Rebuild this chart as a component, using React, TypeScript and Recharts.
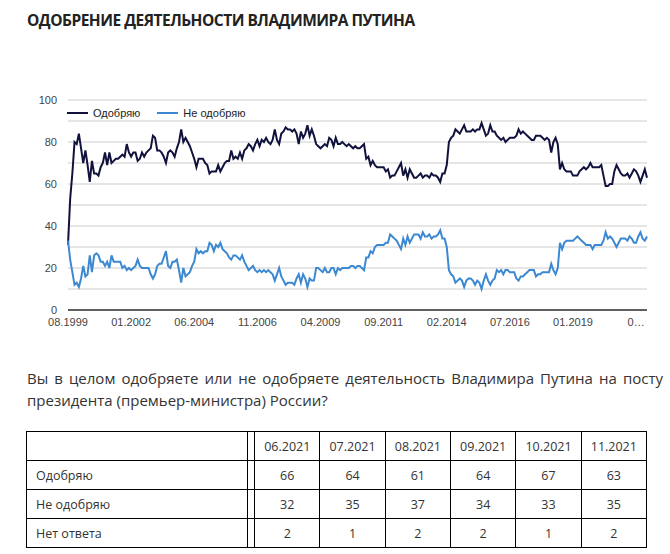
// Одобрение деятельности Владимира Путина — линии Levada (Recharts)
import React from 'react';
import { LineChart, Line, XAxis, YAxis, CartesianGrid } from 'recharts';

// месяц без опроса между 07.2016 и 01.2019
const skippedMonth = '01.2017';

// Одобряю, помесячно с 08.1999 по 11.2021
const approve: number[] = [
  31, 53, 65, 80, 79, // 1999
  84, 77, 70, 76, 69, 61, 71, 65, 65, 64, 68, 70, // 2000
  75, 69, 75, 70, 71, 72, 72, 73, 74, 73, 79, 75, // 2001
  73, 75, 75, 71, 72, 75, 73, 75, 76, 77, 83, 82, // 2002
  76, 76, 75, 73, 70, 75, 76, 75, 73, 77, 80, 86, // 2003
  80, 82, 80, 78, 75, 72, 68, 72, 72, 72, 70, 69, // 2004
  65, 66, 66, 66, 69, 66, 68, 70, 71, 71, 76, 72, // 2005
  73, 72, 75, 72, 76, 77, 79, 78, 76, 79, 81, 78, // 2006
  81, 80, 82, 80, 79, 81, 86, 81, 79, 84, 85, 87, // 2007
  86, 86, 85, 86, 84, 79, 85, 82, 84, 88, 83, 86, // 2008
  83, 79, 78, 77, 78, 79, 78, 82, 81, 78, 82, 79, // 2009
  79, 80, 79, 78, 79, 78, 77, 78, 77, 77, 78, 79, // 2010
  72, 73, 69, 71, 69, 68, 68, 68, 68, 66, 67, 63, // 2011
  64, 64, 66, 68, 70, 64, 67, 63, 67, 65, 63, 63, // 2012
  64, 65, 63, 64, 64, 63, 65, 64, 64, 63, 61, 65, // 2013
  65, 69, 80, 82, 83, 86, 85, 84, 86, 88, 85, 85, // 2014
  85, 86, 85, 86, 86, 89, 86, 83, 84, 88, 85, 85, // 2015
  83, 82, 81, 82, 80, 81, 82, 82, 82, 83, 86, 84, // 2016
  85, 84, 83, 82, 81, 81, 83, 83, 83, 82, 81, // 2017 (фев-дек)
  82, 81, 75, 80, 82, 79, 67, 70, 67, 66, 66, 66, // 2018
  64, 64, 64, 66, 67, 68, 67, 68, 70, 68, 68, 68, // 2019
  68, 69, 64, 59, 59, 60, 60, 66, 69, 67, 65, 64, // 2020
  64, 65, 63, 65, 67, 66, 64, 61, 64, 67, 63, // 2021
];

// Не одобряю
const disapprove: number[] = [
  33, 24, 18, 12, 13, // 1999
  11, 15, 21, 16, 17, 26, 18, 26, 27, 26, 23, 23, // 2000
  21, 23, 20, 26, 23, 23, 23, 23, 20, 21, 19, 20, // 2001
  19, 20, 21, 24, 21, 20, 20, 20, 20, 17, 15, 17, // 2002
  21, 22, 22, 25, 28, 21, 20, 23, 23, 24, 19, 13, // 2003
  20, 16, 17, 18, 21, 23, 29, 27, 28, 27, 28, 28, // 2004
  32, 31, 28, 31, 30, 32, 29, 28, 27, 25, 24, 26, // 2005
  26, 25, 24, 26, 23, 21, 19, 20, 21, 19, 18, 19, // 2006
  18, 19, 18, 19, 18, 17, 14, 17, 20, 16, 14, 12, // 2007
  13, 13, 13, 12, 15, 17, 13, 17, 15, 11, 15, 14, // 2008
  14, 20, 20, 19, 18, 20, 18, 18, 20, 20, 17, 20, // 2009
  19, 20, 20, 20, 20, 21, 21, 20, 21, 21, 20, 19, // 2010
  25, 25, 28, 27, 30, 31, 31, 31, 31, 32, 32, 36, // 2011
  35, 34, 33, 31, 29, 34, 31, 35, 32, 34, 36, 36, // 2012
  36, 34, 37, 35, 35, 36, 34, 35, 35, 36, 38, 34, // 2013
  34, 30, 19, 17, 16, 13, 14, 15, 14, 11, 14, 15, // 2014
  15, 14, 12, 14, 13, 10, 14, 17, 14, 12, 14, 15, // 2015
  19, 18, 19, 17, 19, 19, 18, 18, 18, 15, 14, 16, // 2016
  16, 17, 18, 19, 19, 19, 16, 17, 17, 18, 18, // 2017 (фев-дек)
  18, 18, 22, 19, 17, 20, 32, 29, 32, 33, 33, 33, // 2018
  33, 34, 35, 34, 33, 32, 31, 31, 31, 29, 31, 31, // 2019
  31, 31, 33, 37, 34, 35, 34, 32, 30, 32, 34, 34, // 2020
  34, 33, 35, 34, 32, 32, 35, 37, 34, 33, 35, // 2021
];

const yTicks = [0, 10, 20, 30, 40, 50, 60, 70, 80, 90, 100];

// таблица под графиком
const tableMonths = ['06.2021', '07.2021', '08.2021', '09.2021', '10.2021', '11.2021'];
const tableApprove = [66, 64, 61, 64, 67, 63];
const tableDisapprove = [32, 35, 37, 34, 33, 35];
const tableNoAnswer = [2, 1, 2, 2, 1, 2];

const COLOR_APPROVE = '#10123d';
const COLOR_DISAPPROVE = '#3d89d1';
const CHART_FONT = '"Liberation Sans", Arial, sans-serif';
const TEXT_FONT = '"Open Sans", "Noto Sans", sans-serif';

function buildMonths(): string[] {
  const out: string[] = [];
  for (let y = 1999; y <= 2021; y++) {
    for (let m = 1; m <= 12; m++) {
      if (y === 1999 && m < 8) continue;
      if (y === 2021 && m > 11) continue;
      const label = `${String(m).padStart(2, '0')}.${y}`;
      if (label === skippedMonth) continue;
      out.push(label);
    }
  }
  return out;
}

const months = buildMonths();
const data = months.map((month, i) => ({
  month,
  approve: approve[i],
  disapprove: disapprove[i],
}));

// легенда как в Google Charts (поверх графика, чтобы не съедала высоту)
function ChartLegend() {
  const items = [
    { label: 'Одобряю', color: COLOR_APPROVE },
    { label: 'Не одобряю', color: COLOR_DISAPPROVE },
  ];
  return (
    <div
      style={{
        position: 'absolute', left: 67, top: 106, display: 'flex', alignItems: 'center',
        fontFamily: CHART_FONT, fontSize: 11, color: '#222', lineHeight: '14px',
      }}
    >
      {items.map((it, idx) => (
        <div key={it.label} style={{ display: 'flex', alignItems: 'center', marginRight: idx === 0 ? 17 : 0 }}>
          <span style={{ display: 'inline-block', width: 21, height: 2, background: it.color, marginRight: 5 }} />
          <span>{it.label}</span>
        </div>
      ))}
    </div>
  );
}

const cell: React.CSSProperties = {
  border: '1px solid #000',
  height: 28,
  padding: 0,
  textAlign: 'center',
  color: '#333',
};

export default function App() {
  const rows = [
    { label: 'Одобряю', values: tableApprove },
    { label: 'Не одобряю', values: tableDisapprove },
    { label: 'Нет ответа', values: tableNoAnswer },
  ];

  return (
    <div style={{ position: 'absolute', left: 0, top: 0, width: 670, height: 554, background: '#fff' }}>
      <div
        style={{
          position: 'absolute', left: 27, top: 9, lineHeight: '22px', letterSpacing: -0.5,
          fontFamily: TEXT_FONT, fontSize: 15.5, fontWeight: 700, color: '#222', whiteSpace: 'nowrap',
        }}
      >
        ОДОБРЕНИЕ ДЕЯТЕЛЬНОСТИ ВЛАДИМИРА ПУТИНА
      </div>

      <div style={{ position: 'absolute', left: 0, top: 0 }}>
        <LineChart width={670} height={340} data={data} margin={{ top: 100, right: 23, bottom: 0, left: 0 }}>
          <CartesianGrid vertical={false} stroke="#cccccc" />
          <XAxis
            dataKey="month"
            interval={28}
            height={30}
            tickLine={false}
            tickSize={0}
            tickMargin={8}
            axisLine={{ stroke: '#333', strokeWidth: 1.5 }}
            tick={{ fontSize: 11, fill: '#444', fontFamily: CHART_FONT }}
            tickFormatter={(v: string) => (v === '06.2021' ? '0…' : v)}
          />
          <YAxis
            width={68}
            domain={[0, 100]}
            ticks={yTicks}
            axisLine={false}
            tickLine={false}
            tickSize={0}
            tickMargin={11}
            tick={{ fontSize: 11, fill: '#444', fontFamily: CHART_FONT }}
            tickFormatter={(v: number) => (v % 20 === 0 ? String(v) : '')}
          />
          <Line
            type="linear"
            dataKey="approve"
            name="Одобряю"
            stroke={COLOR_APPROVE}
            strokeWidth={2}
            dot={false}
            isAnimationActive={false}
          />
          <Line
            type="linear"
            dataKey="disapprove"
            name="Не одобряю"
            stroke={COLOR_DISAPPROVE}
            strokeWidth={2}
            dot={false}
            isAnimationActive={false}
          />
        </LineChart>
        <ChartLegend />
      </div>

      <div
        style={{
          position: 'absolute', left: 27, top: 367, width: 636,
          fontFamily: TEXT_FONT, fontSize: 15, lineHeight: '22px', color: '#333',
        }}
      >
        <div style={{ textAlign: 'justify', textAlignLast: 'justify' }}>
          Вы в целом одобряете или не одобряете деятельность Владимира Путина на посту
        </div>
        <div>президента (премьер-министра) России?</div>
      </div>

      <table
        style={{
          position: 'absolute', left: 26, top: 431, borderCollapse: 'collapse', tableLayout: 'fixed',
          width: 621, fontFamily: TEXT_FONT, fontSize: 12.5,
        }}
      >
        <colgroup>
          <col style={{ width: 220 }} />
          <col style={{ width: 7 }} />
          {tableMonths.map((m) => (
            <col key={m} style={{ width: 65 }} />
          ))}
        </colgroup>
        <tbody>
          <tr>
            <td style={cell} />
            <td style={cell} />
            {tableMonths.map((m) => (
              <td key={m} style={cell}>{m}</td>
            ))}
          </tr>
          {rows.map((r) => (
            <tr key={r.label}>
              <td style={{ ...cell, textAlign: 'left', paddingLeft: 9 }}>{r.label}</td>
              <td style={cell} />
              {r.values.map((v, i) => (
                <td key={tableMonths[i]} style={cell}>{v}</td>
              ))}
            </tr>
          ))}
        </tbody>
      </table>
    </div>
  );
}
